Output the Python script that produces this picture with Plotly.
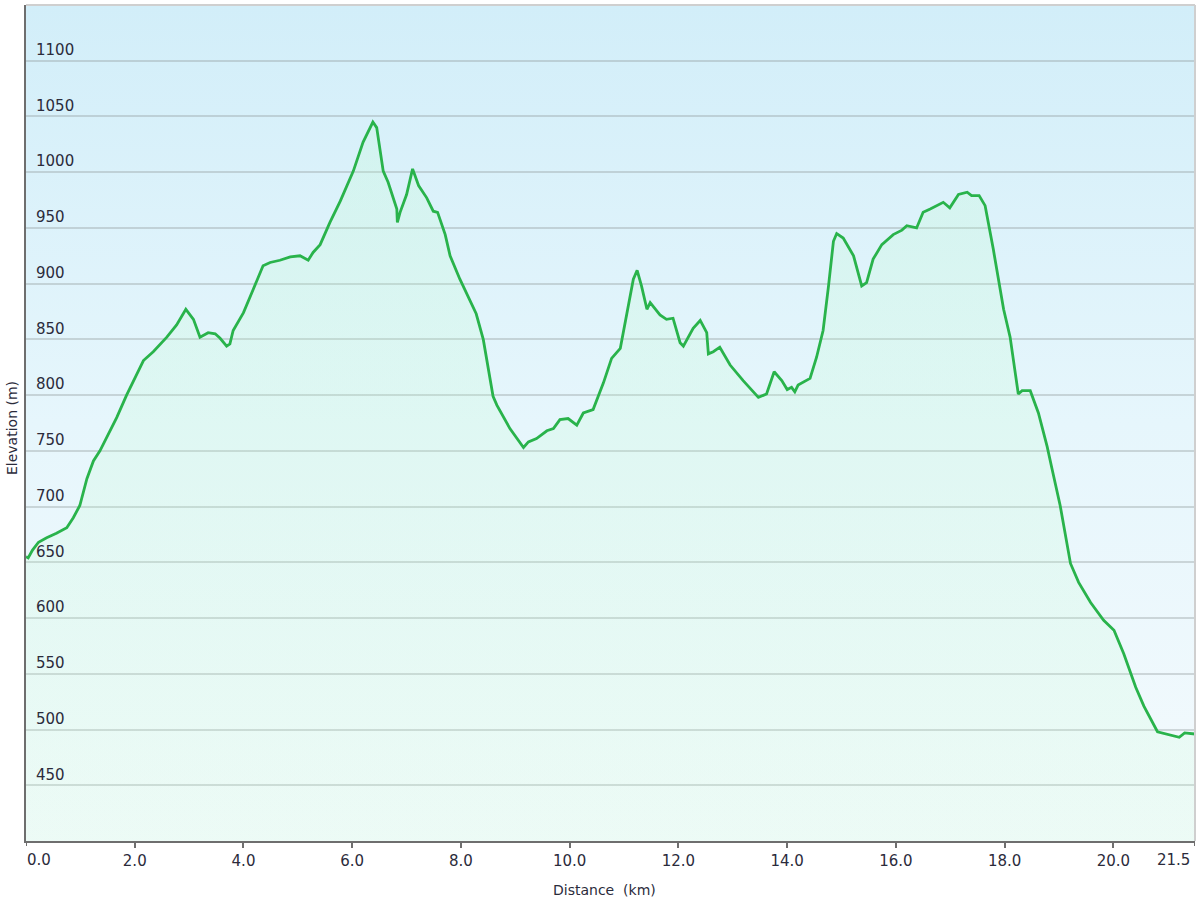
import base64
import plotly.graph_objects as go

distance_km = [0.00, 0.04, 0.12, 0.23, 0.38, 0.56, 0.75, 0.87, 0.99, 1.12, 1.24, 1.36, 1.67, 1.85,
               2.16, 2.34, 2.59, 2.77, 2.94, 3.08, 3.20, 3.35, 3.48, 3.57, 3.69, 3.75, 3.81, 4.00,
               4.18, 4.36, 4.49, 4.67, 4.86, 5.04, 5.19, 5.28, 5.41, 5.59, 5.78, 6.02, 6.20, 6.38,
               6.45, 6.57, 6.66, 6.82, 6.83, 6.88, 7.00, 7.11, 7.22, 7.37, 7.49, 7.57, 7.71, 7.80,
               7.98, 8.20, 8.28, 8.41, 8.59, 8.66, 8.90, 9.15, 9.24, 9.39, 9.58, 9.70, 9.82, 9.97,
               10.13, 10.25, 10.43, 10.62, 10.77, 10.93, 11.05, 11.17, 11.24, 11.32, 11.42, 11.48,
               11.66, 11.78, 11.90, 12.03, 12.09, 12.27, 12.40, 12.52, 12.55, 12.64, 12.76, 12.95,
               13.19, 13.32, 13.47, 13.62, 13.76, 13.90, 14.00, 14.08, 14.14, 14.20, 14.42, 14.54,
               14.66, 14.76, 14.85, 14.91, 15.03, 15.22, 15.37, 15.46, 15.58, 15.74, 15.95, 16.11,
               16.20, 16.38, 16.50, 16.63, 16.87, 16.99, 17.15, 17.31, 17.39, 17.53, 17.64, 17.79,
               17.98, 18.10, 18.25, 18.32, 18.47, 18.62, 18.78, 18.87, 19.02, 19.21, 19.36, 19.58,
               19.82, 20.01, 20.19, 20.41, 20.56, 20.81, 20.99, 21.21, 21.31, 21.50]

elevation_m = [655, 654, 661, 668, 672, 676, 681, 690, 701, 725, 741, 750, 780, 800,
               831, 839, 852, 863, 877, 868, 852, 856, 855, 851, 844, 846, 858, 874,
               895, 916, 919, 921, 924, 925, 921, 928, 935, 955, 974, 1001, 1027, 1045,
               1040, 1001, 991, 967, 955, 964, 980, 1003, 988, 977, 965, 964, 944, 925,
               904, 882, 873, 850, 799, 791, 770, 753, 758, 761, 768, 770, 778, 779,
               773, 784, 787, 811, 833, 842, 874, 904, 912, 898, 877, 883,
               872, 868, 869, 847, 844, 860, 867, 856, 837, 839, 843, 827,
               813, 806, 798, 801, 821, 813, 805, 807, 803, 809, 815, 834,
               858, 898, 938, 945, 941, 925, 898, 901, 922, 935, 944, 948,
               952, 950, 964, 967, 973, 968, 980, 982, 979, 979, 970, 931,
               877, 852, 801, 804, 804, 784, 754, 734, 701, 649, 632, 614,
               598, 589, 568, 538, 521, 498, 496, 493, 497, 496]

x_tick_values = [2, 4, 6, 8, 10, 12, 14, 16, 18, 20]
x_tick_labels = ["2.0", "4.0", "6.0", "8.0", "10.0", "12.0", "14.0", "16.0", "18.0", "20.0"]
x_end_labels = ["0.0", "21.5"]
x_range = [0, 21.5]
y_tick_values = [450, 500, 550, 600, 650, 700, 750, 800, 850, 900, 950, 1000, 1050, 1100]
y_range = [400, 1150]

FONT = "DejaVu Sans"
TXT = "#2b2b3b"

# vertical gradient for the plotting-area background (drawn below the grid)
svg = ("<svg xmlns='http://www.w3.org/2000/svg' width='100' height='100' viewBox='0 0 100 100' "
       "preserveAspectRatio='none'><defs><linearGradient id='g' x1='0' y1='0' x2='0' y2='1'>"
       "<stop offset='0' stop-color='#d2eef9'/><stop offset='0.5' stop-color='#e6f6fc'/>"
       "<stop offset='1' stop-color='#f4fafd'/></linearGradient></defs>"
       "<rect x='0' y='0' width='100' height='100' fill='url(#g)'/></svg>")
bg_uri = "data:image/svg+xml;base64," + base64.b64encode(svg.encode()).decode()

fig = go.Figure()

# elevation profile
fig.add_trace(go.Scatter(
    x=distance_km, y=elevation_m, mode="lines",
    line=dict(color="#29b34b", width=2.8),
    fill="tozeroy",
    fillgradient=dict(type="vertical", start=y_range[0], stop=1050,
                      colorscale=[[0, "rgba(190,255,200,0.14)"], [1, "rgba(190,255,200,0.2)"]]),
    showlegend=False,
))

fig.update_layout(
    width=1200, height=900, autosize=False,
    margin=dict(l=26, r=5, t=5, b=59),
    paper_bgcolor="white", plot_bgcolor="#e6f6fc",
    font=dict(family=FONT, size=15, color=TXT),
    showlegend=False,
    images=[dict(source=bg_uri, xref="paper", yref="paper", x=0, y=1, sizex=1, sizey=1,
                 xanchor="left", yanchor="top", sizing="stretch", layer="below")],
)

fig.update_xaxes(
    range=x_range, tickvals=x_tick_values, ticktext=x_tick_labels,
    showgrid=False, zeroline=False,
    showline=True, linecolor="#6e6e6e", linewidth=2,
    ticks="outside", ticklen=5, tickwidth=2, tickcolor="#6e6e6e",
    tickfont=dict(family=FONT, size=15, color=TXT),
)

fig.update_yaxes(
    range=y_range, tickvals=y_tick_values,
    showgrid=True, gridcolor="rgba(140,150,150,0.35)", gridwidth=2, zeroline=False,
    showline=True, linecolor="#6e6e6e", linewidth=2,
    ticks="", ticklabelposition="inside", ticklabelstandoff=10, ticklabelshift=-11,
    tickfont=dict(family=FONT, size=15, color=TXT),
)

# light border at top and right
fig.add_shape(type="line", xref="paper", yref="paper", x0=0, x1=1, y0=1, y1=1,
              line=dict(color="#cfcfcf", width=2))
fig.add_shape(type="line", xref="paper", yref="paper", x0=1, x1=1, y0=0, y1=1,
              line=dict(color="#cfcfcf", width=2))
# ticks at the end positions
fig.add_shape(type="line", xref="x", yref="paper", x0=x_range[0], x1=x_range[0], y0=0, y1=-0.006,
              line=dict(color="#6e6e6e", width=2))
fig.add_shape(type="line", xref="x", yref="paper", x0=x_range[1], x1=x_range[1], y0=0, y1=-0.006,
              line=dict(color="#6e6e6e", width=2))

# end tick labels kept inside the figure
fig.add_annotation(x=x_range[0], y=0, xref="x", yref="paper", text=x_end_labels[0],
                   showarrow=False, xanchor="left", yanchor="top", yshift=-8, xshift=-1,
                   font=dict(family=FONT, size=15, color=TXT))
fig.add_annotation(x=x_range[1], y=0, xref="x", yref="paper", text=x_end_labels[1],
                   showarrow=False, xanchor="right", yanchor="top", yshift=-8, xshift=-3,
                   font=dict(family=FONT, size=15, color=TXT))

# axis titles
fig.add_annotation(x=0, y=0.494, xref="paper", yref="paper", text="Elevation (m)",
                   textangle=-90, showarrow=False, xanchor="center", yanchor="middle", xshift=-14,
                   font=dict(family=FONT, size=14, color=TXT))
fig.add_annotation(x=0.495, y=0, xref="paper", yref="paper", text="Distance&nbsp;&nbsp;(km)",
                   showarrow=False, xanchor="center", yanchor="middle", yshift=-49,
                   font=dict(family=FONT, size=14, color=TXT))

fig.write_html("out.html", config={"displayModeBar": False},
               post_script="document.body.style.margin='0';")
